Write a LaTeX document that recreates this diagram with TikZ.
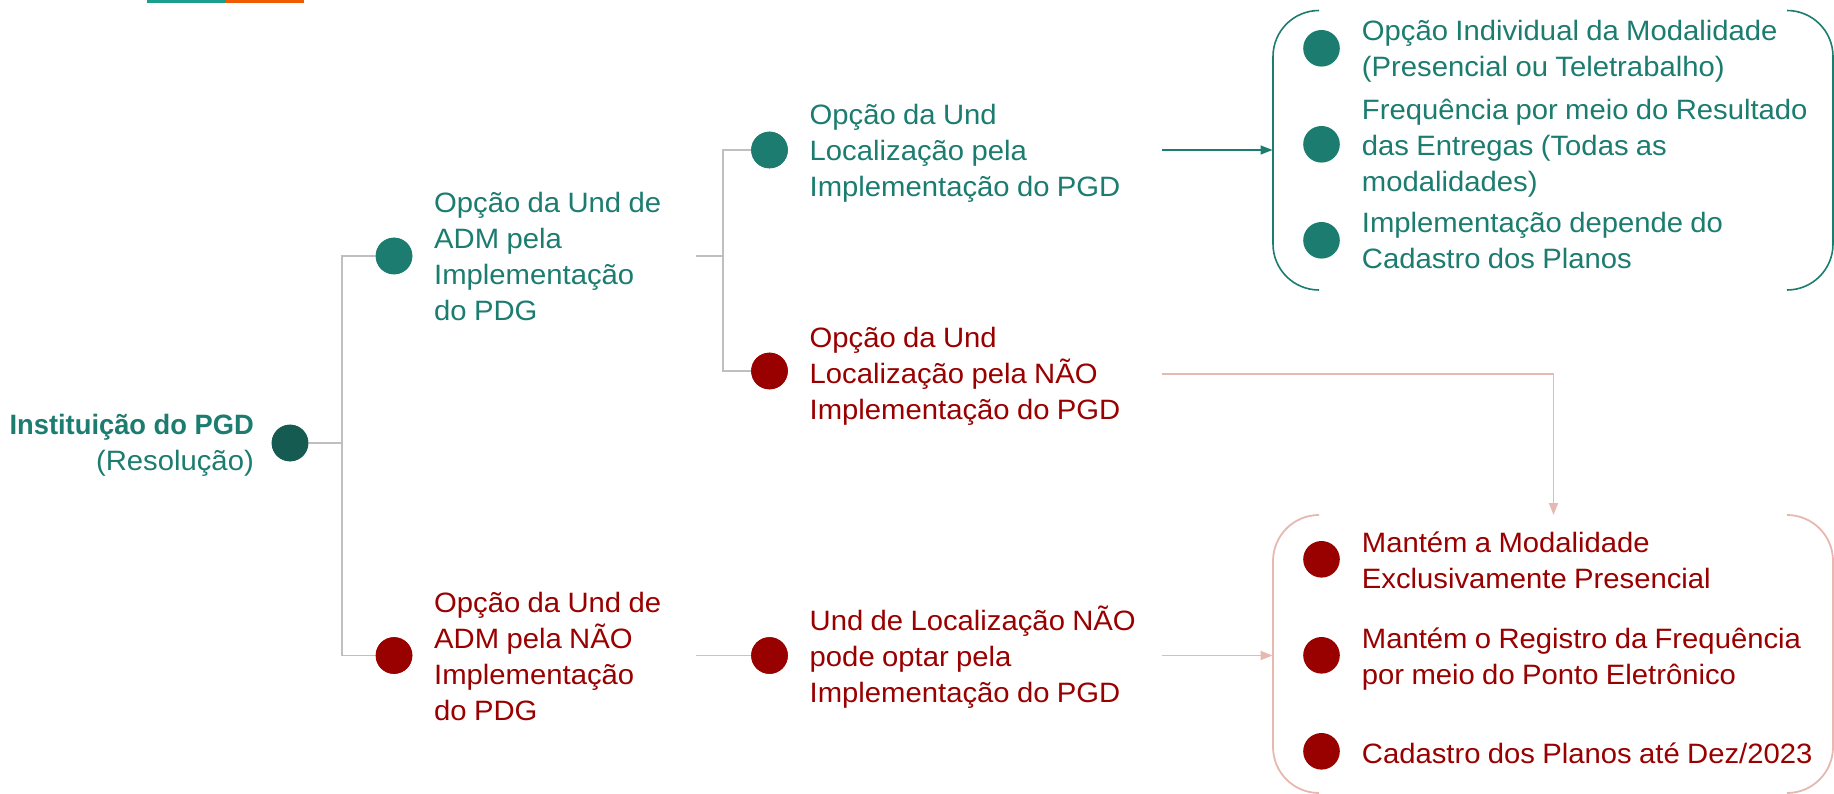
\documentclass[tikz,border=0pt]{standalone}
\usepackage{fontspec}
\setmainfont[FakeStretch=1.045,WordSpace=0.9]{Liberation Sans}
\newfontfamily\rootfam[FakeStretch=0.975]{Liberation Sans}
\usetikzlibrary{arrows.meta}
\definecolor{tealtxt}{HTML}{1C7C6F}
\definecolor{tealdark}{HTML}{165B52}
\definecolor{redtxt}{HTML}{990000}
\definecolor{pinkline}{HTML}{E6B8AF}
\definecolor{grayline}{HTML}{BFBFBF}
\definecolor{barteal}{HTML}{1B9E8B}
\definecolor{barorange}{HTML}{F05A00}
\newcommand{\lnstrut}{\rule[-10.8pt]{0pt}{36pt}}
\newcommand{\lnstart}{\spaceskip=0pt \xspaceskip=0pt \lnstrut}
\tikzset{
  x=1pt,y=-1pt,
  dotnode/.style={circle,minimum size=36.6pt,inner sep=0pt,fill=#1},
  txtnode/.style={anchor=west,inner sep=0pt,align=left,text=#1,
    font=\fontsize{28pt}{36pt}\selectfont,
    execute at begin node=\lnstart,execute at end node=\lnstrut},
  treeline/.style={draw=grayline,line width=1.8pt},
  tealflow/.style={draw=tealtxt,line width=1.6pt,-{Triangle[length=12pt,width=9pt]}},
  pinkflow/.style={draw=pinkline,line width=1.8pt,-{Triangle[length=12pt,width=9pt]}},
  pinktree/.style={draw=pinkline,line width=1.8pt},
  tealbrace/.style={draw=tealtxt,line width=1.6pt,rounded corners=46pt},
  pinkbrace/.style={draw=pinkline,line width=1.8pt,rounded corners=46pt},
}
\begin{document}
\begin{tikzpicture}
\useasboundingbox (0,0) rectangle (1834,794);
% top bars
\fill[barteal] (147,0) rectangle (226,3);
\fill[barorange] (226,0) rectangle (304,3);
% connector free ends
\coordinate (juncroot) at (342,443);
\coordinate (juncup) at (723,256);
\coordinate (boxA) at (1272.5,150);
\coordinate (boxBleft) at (1272.5,655.5);
\coordinate (boxBtop) at (1553.5,515);
% texts
\node[txtnode=tealtxt,anchor=east,align=right] (troot) at (254,448) {{\rootfam\bfseries Instituição do PGD}\\(Resolução)};
\node[txtnode=tealtxt,text width=262pt] (ta) at (434,259.3) {Opção da Und de\\ADM pela\\Implementação\\do PDG};
\node[txtnode=redtxt,text width=262pt] (tb) at (434,659.3) {Opção da Und de\\ADM pela NÃO\\Implementação\\do PDG};
\node[txtnode=tealtxt,text width=352pt] (tc) at (809.5,153.8) {Opção da Und\\Localização pela\\Implementação do PGD};
\node[txtnode=redtxt,text width=352pt] (td) at (809.5,376.3) {Opção da Und\\Localização pela NÃO\\Implementação do PGD};
\node[txtnode=redtxt,text width=352pt] (te) at (809.5,658.8) {Und de Localização NÃO\\pode optar pela\\Implementação do PGD};
\node[txtnode=tealtxt] (tg1) at (1361.7,53.8) {Opção Individual da Modalidade\\(Presencial ou Teletrabalho)};
\node[txtnode=tealtxt] (tg2) at (1361.7,150.8) {Frequência por meio do Resultado\\das Entregas (Todas as\\modalidades)};
\node[txtnode=tealtxt] (tg3) at (1361.7,246) {Implementação depende do\\Cadastro dos Planos};
\node[txtnode=redtxt] (tr1) at (1361.7,565.3) {Mantém a Modalidade\\Exclusivamente Presencial};
\node[txtnode=redtxt] (tr2) at (1361.7,661.8) {Mantém o Registro da Frequência\\por meio do Ponto Eletrônico};
\node[txtnode=redtxt] (tr3) at (1361.7,756.5) {Cadastro dos Planos até Dez/2023};
% dots
\node[dotnode=tealdark] (root) at (290,443) {};
\node[dotnode=tealtxt] (ca) at (394,256) {};
\node[dotnode=redtxt] (cb) at (394,655.5) {};
\node[dotnode=tealtxt] (cc) at (769.5,150) {};
\node[dotnode=redtxt] (cd) at (769.5,371) {};
\node[dotnode=redtxt] (ce) at (769.5,655.5) {};
\node[dotnode=tealtxt] (g1) at (1321.5,48.3) {};
\node[dotnode=tealtxt] (g2) at (1321.5,144.3) {};
\node[dotnode=tealtxt] (g3) at (1321.5,240.3) {};
\node[dotnode=redtxt] (r1) at (1321.5,559.3) {};
\node[dotnode=redtxt] (r2) at (1321.5,655.3) {};
\node[dotnode=redtxt] (r3) at (1321.5,751.3) {};
% tree connectors
\draw[treeline] (root) -- (juncroot);
\draw[treeline] (ca) -| (juncroot) |- (cb);
\draw[treeline] (ta.east |- ca) -- (juncup);
\draw[treeline] (cc) -| (juncup) |- (cd);
\draw[pinktree] (tb.east |- ce) -- (ce);
% flows
\draw[tealflow] (tc.east |- cc) -- (boxA);
\draw[pinkflow] (te.east |- ce) -- (boxBleft);
\draw[pinkflow] (td.east |- 0,374) -| (boxBtop);
% brackets
\draw[tealbrace] (1319,10.5) -| (1273,290) -- (1319,290);
\draw[tealbrace] (1788,10.5) -| (1833,290) -- (1788,290);
\draw[pinkbrace] (1319,515) -| (1273,793) -- (1319,793);
\draw[pinkbrace] (1788,515) -| (1833,793) -- (1788,793);
% dots repainted above their connectors
\node[dotnode=tealdark] at (root) {};
\node[dotnode=tealtxt] at (ca) {};
\node[dotnode=redtxt] at (cb) {};
\node[dotnode=tealtxt] at (cc) {};
\node[dotnode=redtxt] at (cd) {};
\node[dotnode=redtxt] at (ce) {};
\end{tikzpicture}
\end{document}
